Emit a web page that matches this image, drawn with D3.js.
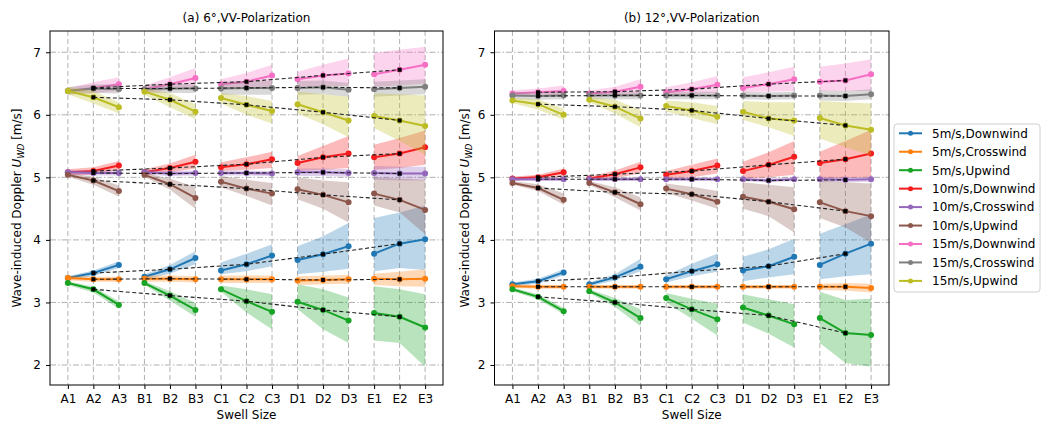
<!DOCTYPE html>
<html>
<head>
<meta charset="utf-8">
<script src="https://cdn.jsdelivr.net/npm/d3@7"></script>
<style>
  body { margin: 0; background: #fff; }
  svg { font-family: "DejaVu Sans", sans-serif; }
</style>
</head>
<body>
<svg id="chart" width="1049" height="422"></svg>
<script>
// Swell size categories along the x axis
const swellSizes = ["A1","A2","A3","B1","B2","B3","C1","C2","C3","D1","D2","D3","E1","E2","E3"];
const yTicks = [2, 3, 4, 5, 6, 7];

// Series (wind speed, direction) and their colours
const seriesNames = ["5m/s,Downwind","5m/s,Crosswind","5m/s,Upwind",
                     "10m/s,Downwind","10m/s,Crosswind","10m/s,Upwind",
                     "15m/s,Downwind","15m/s,Crosswind","15m/s,Upwind"];
const seriesColors = ["#1f77b4","#ff7f0e","#17a323","#f41c1c","#9467bd","#8c564b","#f76fc4","#7f7f7f","#bcbd22"];

// (a) 6°, VV polarization: mean Doppler and band bounds per series
const meanA = [
  [3.39,3.47,3.60, 3.41,3.53,3.71, 3.51,3.61,3.75, 3.68,3.77,3.90, 3.78,3.94,4.01],
  [3.39,3.37,3.37, 3.38,3.38,3.37, 3.37,3.37,3.37, 3.35,3.36,3.37, 3.38,3.37,3.38],
  [3.31,3.21,2.96, 3.31,3.11,2.88, 3.21,3.02,2.85, 3.01,2.88,2.71, 2.83,2.77,2.60],
  [5.08,5.10,5.19, 5.08,5.15,5.25, 5.16,5.21,5.29, 5.23,5.32,5.38, 5.32,5.38,5.48],
  [5.08,5.07,5.07, 5.08,5.06,5.07, 5.07,5.07,5.06, 5.08,5.08,5.07, 5.07,5.06,5.06],
  [5.04,4.95,4.78, 5.04,4.89,4.67, 4.93,4.82,4.74, 4.81,4.72,4.60, 4.74,4.64,4.48],
  [6.38,6.43,6.49, 6.41,6.49,6.59, 6.49,6.53,6.63, 6.57,6.63,6.66, 6.65,6.72,6.80],
  [6.38,6.42,6.41, 6.41,6.42,6.42, 6.42,6.43,6.43, 6.43,6.44,6.40, 6.41,6.43,6.45],
  [6.38,6.28,6.12, 6.37,6.24,6.05, 6.27,6.16,6.06, 6.17,6.04,5.91, 5.98,5.91,5.82]
];
const lowerA = [
  [3.36,3.42,3.55, 3.37,3.46,3.61, 3.45,3.50,3.58, 3.45,3.49,3.54, 3.50,3.55,3.52],
  [3.35,3.33,3.33, 3.33,3.33,3.32, 3.31,3.31,3.31, 3.28,3.29,3.30, 3.28,3.26,3.25],
  [3.28,3.16,2.90, 3.28,3.03,2.77, 3.17,2.84,2.57, 2.89,2.57,2.35, 2.39,2.35,1.97],
  [5.03,5.04,5.12, 5.03,5.08,5.14, 5.10,5.12,5.15, 5.10,5.12,5.15, 5.12,5.15,5.20],
  [5.04,5.03,5.03, 5.04,5.02,5.03, 5.03,5.03,5.02, 5.02,5.02,5.01, 4.96,4.95,4.95],
  [5.01,4.88,4.69, 5.01,4.80,4.50, 4.84,4.70,4.55, 4.65,4.50,4.28, 4.55,4.44,4.09],
  [6.33,6.35,6.38, 6.35,6.40,6.45, 6.40,6.42,6.45, 6.45,6.46,6.46, 6.45,6.47,6.50],
  [6.32,6.35,6.34, 6.34,6.35,6.35, 6.32,6.32,6.32, 6.32,6.33,6.29, 6.29,6.31,6.33],
  [6.33,6.18,6.02, 6.32,6.12,5.93, 6.18,6.00,5.86, 6.02,5.85,5.64, 5.79,5.58,5.36]
];
const upperA = [
  [3.42,3.51,3.66, 3.45,3.60,3.82, 3.64,3.78,3.93, 3.90,4.06,4.27, 4.35,4.44,4.55],
  [3.43,3.41,3.41, 3.43,3.43,3.42, 3.43,3.43,3.43, 3.42,3.43,3.44, 3.46,3.49,3.53],
  [3.34,3.25,3.02, 3.34,3.18,2.99, 3.27,3.21,3.13, 3.29,3.21,3.08, 3.26,3.21,3.13],
  [5.13,5.16,5.26, 5.13,5.22,5.36, 5.24,5.32,5.41, 5.34,5.50,5.66, 5.52,5.63,5.75],
  [5.12,5.11,5.11, 5.12,5.10,5.11, 5.11,5.11,5.10, 5.14,5.14,5.13, 5.18,5.17,5.17],
  [5.07,5.01,4.87, 5.07,4.98,4.84, 5.02,4.96,4.91, 5.00,4.95,4.92, 5.00,4.98,4.96],
  [6.43,6.52,6.60, 6.47,6.60,6.75, 6.57,6.67,6.80, 6.69,6.80,6.90, 6.99,7.04,7.09],
  [6.44,6.49,6.48, 6.48,6.49,6.49, 6.52,6.54,6.54, 6.54,6.55,6.51, 6.53,6.55,6.57],
  [6.45,6.38,6.20, 6.42,6.35,6.17, 6.35,6.30,6.22, 6.37,6.33,6.29, 6.34,6.33,6.31]
];

// (b) 12°, VV polarization
const meanB = [
  [3.29,3.34,3.48, 3.29,3.40,3.57, 3.37,3.50,3.61, 3.51,3.58,3.73, 3.60,3.78,3.94],
  [3.26,3.25,3.25, 3.25,3.25,3.25, 3.25,3.25,3.25, 3.25,3.25,3.25, 3.25,3.25,3.23],
  [3.21,3.09,2.86, 3.18,3.00,2.75, 3.07,2.89,2.73, 2.92,2.79,2.65, 2.75,2.51,2.48],
  [4.98,5.00,5.08, 4.98,5.05,5.16, 5.04,5.10,5.19, 5.10,5.20,5.33, 5.23,5.29,5.38],
  [4.97,4.97,4.97, 4.97,4.97,4.97, 4.97,4.97,4.97, 4.97,4.95,4.97, 4.97,4.96,4.97],
  [4.91,4.83,4.64, 4.91,4.76,4.57, 4.82,4.73,4.61, 4.69,4.61,4.49, 4.60,4.46,4.38],
  [6.34,6.36,6.38, 6.34,6.37,6.45, 6.36,6.41,6.48, 6.43,6.49,6.57, 6.53,6.55,6.65],
  [6.31,6.30,6.31, 6.31,6.31,6.31, 6.31,6.31,6.31, 6.31,6.30,6.31, 6.31,6.30,6.33],
  [6.23,6.17,6.00, 6.24,6.13,5.94, 6.14,6.07,5.97, 6.05,5.94,5.91, 5.95,5.83,5.76]
];
const lowerB = [
  [3.26,3.30,3.43, 3.26,3.35,3.50, 3.32,3.42,3.49, 3.34,3.40,3.45, 3.37,3.42,3.45],
  [3.23,3.22,3.22, 3.22,3.22,3.22, 3.22,3.22,3.22, 3.22,3.22,3.22, 3.20,3.19,3.16],
  [3.18,3.05,2.81, 3.15,2.93,2.62, 3.00,2.74,2.47, 2.68,2.50,2.28, 2.35,2.03,1.97],
  [4.95,4.96,5.02, 4.95,4.99,5.06, 4.98,5.00,5.06, 4.98,5.00,5.04, 4.98,4.99,5.00],
  [4.94,4.94,4.94, 4.94,4.94,4.94, 4.94,4.94,4.94, 4.94,4.92,4.94, 4.93,4.92,4.93],
  [4.88,4.78,4.56, 4.88,4.68,4.47, 4.75,4.63,4.50, 4.50,4.38,4.12, 4.35,4.20,3.96],
  [6.29,6.30,6.30, 6.29,6.31,6.33, 6.31,6.33,6.35, 6.36,6.37,6.38, 6.38,6.38,6.38],
  [6.25,6.24,6.25, 6.25,6.25,6.25, 6.25,6.25,6.25, 6.25,6.24,6.25, 6.23,6.22,6.25],
  [6.19,6.08,5.92, 6.20,6.02,5.80, 6.05,5.95,5.85, 5.92,5.80,5.66, 5.62,5.48,5.35]
];
const upperB = [
  [3.32,3.38,3.53, 3.32,3.45,3.70, 3.43,3.62,3.78, 3.73,3.85,4.02, 4.10,4.25,4.41],
  [3.29,3.28,3.28, 3.28,3.28,3.28, 3.28,3.28,3.28, 3.28,3.28,3.28, 3.30,3.31,3.30],
  [3.24,3.13,2.91, 3.21,3.07,2.89, 3.15,3.06,2.98, 3.13,3.05,2.97, 3.17,3.04,3.06],
  [5.01,5.04,5.14, 5.01,5.11,5.25, 5.10,5.20,5.30, 5.25,5.40,5.58, 5.41,5.58,5.76],
  [5.00,5.00,5.00, 5.00,5.00,5.00, 5.00,5.00,5.00, 5.00,4.98,5.00, 5.01,5.00,5.01],
  [4.94,4.89,4.74, 4.94,4.84,4.68, 4.90,4.85,4.78, 4.92,4.88,4.84, 4.95,4.92,4.90],
  [6.39,6.42,6.47, 6.39,6.45,6.57, 6.44,6.52,6.62, 6.60,6.68,6.77, 6.77,6.82,6.89],
  [6.37,6.36,6.37, 6.37,6.37,6.37, 6.37,6.37,6.37, 6.37,6.36,6.37, 6.39,6.38,6.41],
  [6.27,6.25,6.10, 6.28,6.24,6.08, 6.23,6.20,6.14, 6.22,6.20,6.20, 6.22,6.20,6.18]
];

const svg = d3.select("#chart");
const yDomain = [1.68, 7.34];

function drawPanel(p) {
  const g = svg.append("g");
  const x = d3.scaleLinear().domain([-0.7, 14.7]).range([p.left, p.right]);
  const y = d3.scaleLinear().domain(yDomain).range([p.bottom, p.top]);

  // grid
  g.append("g").selectAll("line").data(yTicks).join("line")
    .attr("x1", p.left).attr("x2", p.right)
    .attr("y1", d => y(d)).attr("y2", d => y(d))
    .attr("stroke", "#a8a8a8").attr("stroke-width", 0.9)
    .attr("stroke-dasharray", "6,2,1.5,2");
  g.append("g").selectAll("line").data(d3.range(swellSizes.length)).join("line")
    .attr("y1", p.top).attr("y2", p.bottom)
    .attr("x1", d => x(d)).attr("x2", d => x(d))
    .attr("stroke", "#a8a8a8").attr("stroke-width", 0.9)
    .attr("stroke-dasharray", "5,3");

  const groupIdx = d3.range(5).map(k => [3*k, 3*k+1, 3*k+2]);
  const area = d3.area().x(d => x(d.i)).y0(d => y(d.lo)).y1(d => y(d.hi));
  const line = d3.line().x(d => x(d.i)).y(d => y(d.v));

  seriesNames.forEach((name, s) => {
    const col = seriesColors[s];
    groupIdx.forEach(idx => {
      const pts = idx.map(i => ({i, v: p.mean[s][i], lo: p.lower[s][i], hi: p.upper[s][i]}));
      g.append("path").datum(pts).attr("d", area)
        .attr("fill", col).attr("fill-opacity", 0.3);
      g.append("path").datum(pts).attr("d", line)
        .attr("fill", "none").attr("stroke", col).attr("stroke-width", 2);
      g.append("g").selectAll("circle").data(pts).join("circle")
        .attr("cx", d => x(d.i)).attr("cy", d => y(d.v)).attr("r", 3)
        .attr("fill", col);
    });
  });

  // trend through the middle size of each swell group
  seriesNames.forEach((name, s) => {
    const mids = d3.range(5).map(k => ({i: 3*k+1, v: p.mean[s][3*k+1]}));
    g.append("path").datum(mids).attr("d", line)
      .attr("fill", "none").attr("stroke", "#222").attr("stroke-width", 1.1)
      .attr("stroke-dasharray", "4,2.5");
    g.append("g").selectAll("rect").data(mids).join("rect")
      .attr("x", d => x(d.i) - 2).attr("y", d => y(d.v) - 2)
      .attr("width", 4).attr("height", 4).attr("fill", "#000");
  });

  // frame
  g.append("rect").attr("x", p.left).attr("y", p.top)
    .attr("width", p.right - p.left).attr("height", p.bottom - p.top)
    .attr("fill", "none").attr("stroke", "#000").attr("stroke-width", 1);

  // axes
  const xAxis = d3.axisBottom(x).tickValues(d3.range(swellSizes.length))
    .tickFormat(i => swellSizes[i]).tickSize(4).tickPadding(5);
  const gx = g.append("g").attr("transform", `translate(0,${p.bottom})`).call(xAxis);
  const yAxis = d3.axisLeft(y).tickValues(yTicks).tickFormat(d3.format("d"))
    .tickSize(4).tickPadding(5);
  const gy = g.append("g").attr("transform", `translate(${p.left},0)`).call(yAxis);
  [gx, gy].forEach(a => {
    a.select(".domain").remove();
    a.selectAll("text").attr("font-size", 12).attr("fill", "#000")
      .attr("font-family", "DejaVu Sans, sans-serif");
    a.selectAll("line").attr("stroke", "#000");
  });

  // titles and labels
  const cx = (p.left + p.right) / 2;
  g.append("text").attr("x", cx).attr("y", 22).attr("text-anchor", "middle")
    .attr("font-size", 12).text(p.title);
  g.append("text").attr("x", cx).attr("y", 419).attr("text-anchor", "middle")
    .attr("font-size", 12).text("Swell Size");
  const cy = (p.top + p.bottom) / 2;
  const yl = g.append("text").attr("transform", `translate(${p.left - p.labelGap},${cy}) rotate(-90)`)
    .attr("text-anchor", "middle").attr("font-size", 12);
  yl.append("tspan").text("Wave-induced Doppler ");
  yl.append("tspan").attr("font-style", "italic").text("U");
  yl.append("tspan").attr("font-size", 8.5).attr("font-style", "italic").attr("dy", 3).text("WD");
  yl.append("tspan").attr("dy", -3).text(" [m/s]");
}

drawPanel({left: 50, right: 443, top: 31, bottom: 385, labelGap: 29, title: "(a) 6°,VV-Polarization",
           mean: meanA, lower: lowerA, upper: upperA});
drawPanel({left: 494.5, right: 889, top: 31, bottom: 385, labelGap: 26, title: "(b) 12°,VV-Polarization",
           mean: meanB, lower: lowerB, upper: upperB});

// legend
const legend = svg.append("g");
legend.append("rect").attr("x", 894).attr("y", 124).attr("width", 146).attr("height", 168)
  .attr("rx", 3).attr("fill", "#fff").attr("stroke", "#d0d0d0").attr("stroke-width", 1);
const items = legend.selectAll("g.item").data(seriesNames).join("g").attr("class", "item")
  .attr("transform", (d, i) => `translate(0,${133.3 + i * 18.45})`);
items.append("line").attr("x1", 899).attr("x2", 922).attr("y1", 0).attr("y2", 0)
  .attr("stroke", (d, i) => seriesColors[i]).attr("stroke-width", 2);
items.append("circle").attr("cx", 910.5).attr("cy", 0).attr("r", 2.5)
  .attr("fill", (d, i) => seriesColors[i]);
items.append("text").attr("x", 932).attr("y", 4.3).attr("font-size", 12).text(d => d);
</script>
</body>
</html>
